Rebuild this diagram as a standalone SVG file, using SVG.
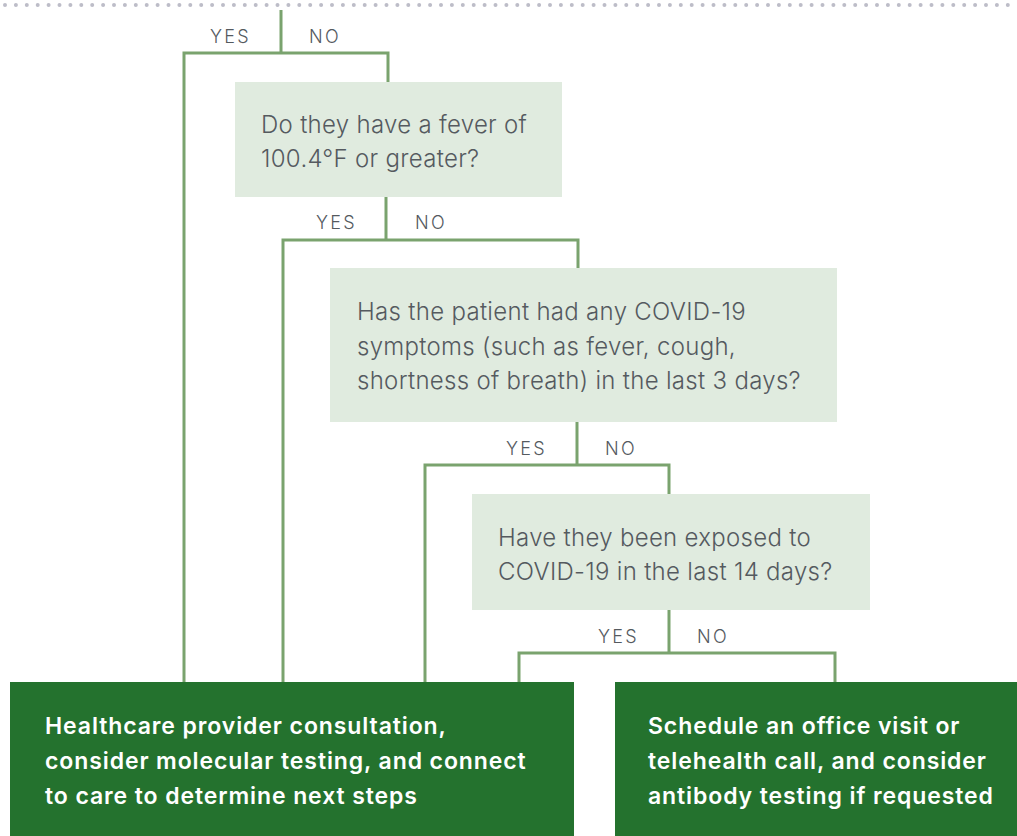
<svg xmlns="http://www.w3.org/2000/svg" width="1017" height="836" viewBox="0 0 1017 836">
<style>
.q{fill:#e0ebdf}
.a{fill:#24722e}
.qt{font-family:Inter,"Liberation Sans",sans-serif;font-weight:300;font-size:24px;letter-spacing:0.3px;fill:#555a5f}
.at{font-family:Inter,"Liberation Sans",sans-serif;font-weight:600;font-size:23px;letter-spacing:0.9px;fill:#ffffff}
.yn{font-family:Inter,"Liberation Sans",sans-serif;font-weight:300;font-size:18px;letter-spacing:2.3px;fill:#555a5f}
.c{fill:none;stroke:#7aa36e;stroke-width:3}
</style>
<line x1="5" y1="5" x2="1012" y2="5" stroke="#bdbdc8" stroke-width="4" stroke-linecap="round" stroke-dasharray="0 10.9"/>
<g id="connectors">
<path class="c" d="M281 10V53M184 682V53H388V82"/>
<path class="c" d="M386 197V240M283 682V240H578V268"/>
<path class="c" d="M577 422V465M425 682V465H669V494"/>
<path class="c" d="M669 610V653M519 682V653H835V682"/>
</g>
<g id="labels">
<text class="yn" x="210" y="43">YES</text>
<text class="yn" x="309" y="43">NO</text>
<text class="yn" x="316" y="229">YES</text>
<text class="yn" x="415" y="229">NO</text>
<text class="yn" x="506" y="455">YES</text>
<text class="yn" x="605" y="455">NO</text>
<text class="yn" x="598" y="643">YES</text>
<text class="yn" x="697" y="643">NO</text>
</g>
<g id="q1">
<rect class="q" x="235" y="82" width="327" height="115"/>
<text class="qt" x="261" y="133">Do they have a fever of</text>
<text class="qt" x="261" y="167">100.4°F or greater?</text>
</g>
<g id="q2">
<rect class="q" x="330" y="268" width="507" height="154"/>
<text class="qt" x="357" y="320">Has the patient had any COVID-19</text>
<text class="qt" x="357" y="355">symptoms (such as fever, cough,</text>
<text class="qt" x="357" y="389">shortness of breath) in the last 3 days?</text>
</g>
<g id="q3">
<rect class="q" x="472" y="494" width="398" height="116"/>
<text class="qt" x="498" y="546">Have they been exposed to</text>
<text class="qt" x="498" y="580">COVID-19 in the last 14 days?</text>
</g>
<g id="a1">
<rect class="a" x="10" y="682" width="564" height="154"/>
<text class="at" x="45" y="734">Healthcare provider consultation,</text>
<text class="at" x="45" y="769">consider molecular testing, and connect</text>
<text class="at" x="45" y="804">to care to determine next steps</text>
</g>
<g id="a2">
<rect class="a" x="615" y="682" width="402" height="154"/>
<text class="at" x="648" y="734">Schedule an office visit or</text>
<text class="at" x="648" y="769">telehealth call, and consider</text>
<text class="at" x="648" y="804">antibody testing if requested</text>
</g>
</svg>
